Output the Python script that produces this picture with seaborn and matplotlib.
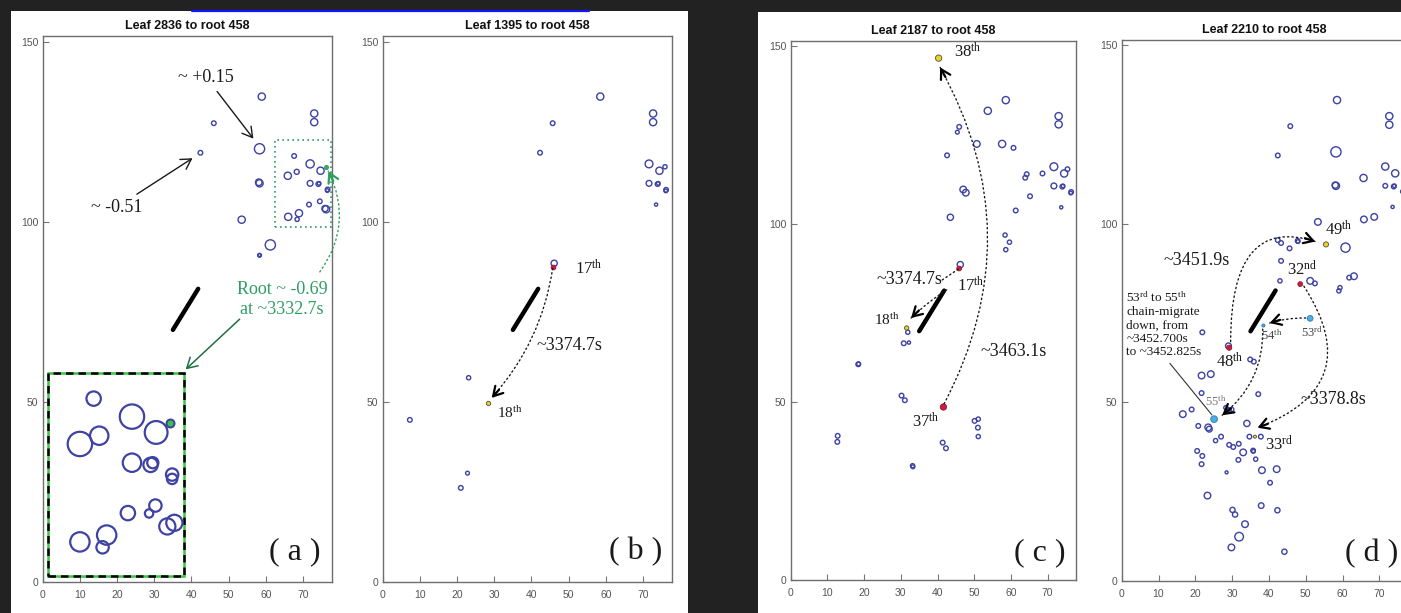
import numpy as np
import pandas as pd
import matplotlib
matplotlib.use("Agg")
import matplotlib.pyplot as plt
import seaborn as sns
from matplotlib.patches import Rectangle
from matplotlib.lines import Line2D

# ---------------- data ----------------
titles = ["Leaf 2836 to root 458", "Leaf 1395 to root 458",
          "Leaf 2187 to root 458", "Leaf 2210 to root 458"]
panel_tags = ["( a )", "( b )", "( c )", "( d )"]
x_ticks = [0, 10, 20, 30, 40, 50, 60, 70]
y_ticks = [0, 50, 100, 150]

# black reference segment (same in all panels)
seg_x = [35.0, 41.8]
seg_y = [69.9, 81.3]

# panel (a) cells
a_x = [58.9, 46.0, 42.4, 58.3, 73.0, 73.0, 58.3, 58.1, 53.5, 61.2, 58.3, 58.3,
       67.6, 65.9, 68.3, 71.9, 74.7, 71.9, 74.1, 74.3, 76.6, 76.5, 71.6, 74.5,
       76.2, 75.9, 66.0, 68.9, 68.4]
a_y = [134.7, 127.3, 119.1, 120.2, 130.0, 127.6, 110.6, 110.9, 100.5, 93.5, 90.6, 90.7,
       118.2, 112.7, 113.8, 116.0, 114.1, 110.6, 110.4, 110.6, 108.9, 108.6, 104.7, 105.6,
       103.4, 103.6, 101.3, 102.3, 100.6]
a_r = [4.3, 3.0, 3.0, 5.8, 4.3, 4.3, 4.3, 4.0, 4.3, 5.8, 2.6, 2.2,
       3.0, 4.3, 3.2, 4.8, 4.3, 3.6, 3.0, 2.5, 3.0, 2.5, 3.0, 3.0,
       4.3, 3.8, 4.3, 4.3, 2.8]
a_root_x = [76.2]
a_root_y = [115.2]
a_root_r = [2.5]
# magnified inset of the dotted box
ai_x = [13.7, 24.0, 10.0, 15.2, 30.5, 24.0, 29.0, 29.6, 34.8, 34.8, 22.9, 30.3,
        28.6, 33.5, 35.4, 17.2, 10.0, 16.1]
ai_y = [50.8, 45.8, 38.2, 40.5, 41.4, 33.0, 32.4, 33.0, 29.7, 28.5, 19.0, 21.1,
        18.9, 15.3, 16.3, 12.9, 11.0, 9.5]
ai_r = [8.3, 13.3, 13.3, 10.3, 12.5, 10.3, 8.3, 6.7, 7.3, 6.3, 8.3, 7.3,
        5.3, 9.2, 9.2, 10.8, 10.8, 7.3]
ai_root_x = [34.2]
ai_root_y = [43.9]
ai_root_r = [5.0]

# panel (b)
b_x = [58.5, 45.7, 42.3, 72.7, 72.7, 71.6, 74.4, 75.9, 71.6, 73.9, 74.1, 76.2, 76.1,
       73.5, 46.1, 23.1, 7.3, 22.8, 21.0]
b_y = [134.7, 127.3, 119.1, 130.0, 127.6, 116.0, 114.1, 115.2, 110.6, 110.4, 110.6, 108.8, 108.5,
       104.7, 88.4, 56.6, 44.9, 30.1, 26.0]
b_r = [4.3, 3.0, 3.0, 4.3, 4.3, 4.6, 4.3, 2.8, 3.6, 3.0, 2.5, 3.0, 2.5,
       2.3, 3.8, 2.8, 3.0, 2.6, 3.0]
b_red_x, b_red_y, b_red_r = [45.7], [87.5], [2.8]
b_yel_x, b_yel_y, b_yel_r = [28.2], [49.7], [2.6]

# panel (c)
c_x = [58.6, 53.7, 45.9, 45.4, 42.6, 50.7, 57.6, 60.7, 73.0, 73.0, 47.0, 47.7, 43.5,
       61.3, 65.2, 63.9, 64.3, 68.6, 71.7, 74.5, 75.4, 71.7, 74.0, 74.2, 76.4, 76.3,
       73.7, 58.4, 59.6, 58.6, 46.2, 31.9, 30.8, 32.2, 18.4, 18.5, 30.2, 31.1, 12.8,
       12.7, 33.2, 33.3, 41.4, 42.3, 50.1, 51.1, 51.0, 51.1]
c_y = [134.8, 131.8, 127.3, 125.8, 119.3, 122.5, 122.5, 121.4, 130.3, 128.0, 109.7, 108.8, 101.9,
       103.8, 107.8, 113.0, 114.0, 114.2, 116.1, 114.2, 115.4, 110.7, 110.5, 110.7, 109.0, 108.7,
       104.7, 96.9, 94.9, 92.8, 88.6, 69.6, 66.5, 66.7, 60.6, 60.7, 51.8, 50.5, 40.5,
       38.8, 32.1, 31.8, 38.6, 37.0, 44.7, 45.2, 42.8, 40.3]
c_r = [4.3, 4.3, 3.0, 2.6, 3.0, 4.0, 4.3, 3.0, 4.3, 4.3, 4.0, 4.0, 3.8,
       3.0, 3.0, 3.0, 3.0, 3.0, 4.6, 4.3, 3.0, 3.6, 3.0, 2.5, 3.0, 2.5,
       2.3, 2.8, 2.8, 2.8, 3.8, 2.8, 3.0, 2.3, 3.0, 2.6, 3.0, 3.0, 3.0,
       3.0, 2.8, 2.6, 3.0, 3.0, 3.0, 2.8, 3.0, 2.8]
c_red_x, c_red_y, c_red_r = [45.9, 41.6], [87.5, 48.6], [2.8, 3.6]
c_yel_x, c_yel_y, c_yel_r = [31.6, 40.3], [70.8, 146.6], [2.6, 3.6]

# panel (d)
d_x = [58.5, 45.8, 42.4, 58.2, 72.7, 72.7, 58.2, 58.0, 65.7, 71.6, 74.3, 71.6, 73.9, 74.1,
       73.6, 76.4, 53.3, 65.8, 68.6, 60.8, 42.4, 43.3, 45.6, 47.8, 47.9, 43.3, 43.0, 51.2,
       52.5, 61.8, 63.1, 59.3, 59.0,
       21.9, 34.9, 35.9, 21.7, 24.2, 37.1, 21.7, 16.6, 19.0, 28.3, 29.2, 29.9, 20.8, 23.5,
       23.8, 34.0, 34.7, 37.8, 25.5, 27.0, 29.2, 30.3, 31.8, 33.0, 35.7, 35.8, 36.4, 31.7,
       20.5, 21.9, 21.7, 28.5, 38.1, 42.1, 40.3, 23.3, 30.1, 30.8, 33.5, 31.9, 29.8, 37.9,
       42.3, 44.2, 29.0]
d_y = [134.6, 127.3, 119.1, 120.1, 130.1, 127.7, 110.6, 110.8, 112.8, 116.0, 114.1, 110.6, 110.4, 110.6,
       104.7, 109.0, 100.5, 101.2, 101.9, 93.3, 95.4, 94.6, 93.1, 95.2, 95.0, 89.6, 84.0, 84.0,
       83.3, 84.9, 85.3, 82.1, 81.2,
       69.6, 62.0, 61.4, 57.5, 57.9, 52.3, 52.6, 46.7, 48.0, 48.5, 47.9, 48.0, 43.4, 43.0,
       42.5, 44.1, 40.4, 40.4, 39.3, 40.4, 38.1, 37.5, 38.4, 36.0, 36.5, 36.3, 34.1, 33.9,
       36.4, 35.0, 32.7, 30.4, 31.0, 31.3, 27.5, 23.9, 19.9, 18.6, 15.9, 12.4, 9.4, 21.1,
       19.8, 8.2, 65.8]
d_r = [4.3, 3.0, 3.0, 5.8, 4.3, 4.3, 4.3, 3.8, 4.3, 4.3, 4.3, 3.0, 3.0, 2.5,
       2.3, 3.0, 4.0, 4.0, 4.0, 5.3, 3.0, 3.0, 3.0, 3.0, 2.5, 3.0, 2.8, 4.0,
       3.0, 3.0, 4.0, 2.8, 2.8,
       3.0, 3.0, 3.0, 4.0, 4.0, 3.0, 3.0, 4.0, 3.0, 2.8, 2.8, 2.8, 3.0, 4.0,
       3.6, 3.8, 3.0, 3.0, 2.8, 3.0, 3.0, 3.0, 3.0, 4.0, 3.0, 2.5, 2.8, 3.0,
       3.0, 3.0, 3.0, 2.2, 4.0, 4.0, 3.0, 4.0, 3.3, 3.3, 4.0, 5.0, 4.0, 3.5,
       3.3, 3.3, 3.6]
d_red_x, d_red_y, d_red_r = [48.5, 29.2], [83.1, 65.3], [2.8, 3.0]
d_yel_x, d_yel_y, d_yel_r = [36.2, 55.5], [40.4, 94.2], [2.0, 3.0]
d_cyan_x, d_cyan_y, d_cyan_r = [51.2, 38.5, 25.1], [73.5, 71.5, 45.3], [3.3, 2.0, 3.8]

# ---------------- style ----------------
sns.set_theme(style="white")
plt.rcParams["font.family"] = ["Liberation Sans", "DejaVu Sans"]
plt.rcParams["mathtext.fontset"] = "custom"
plt.rcParams["mathtext.rm"] = "Liberation Serif"
plt.rcParams["mathtext.it"] = "Liberation Serif:italic"
plt.rcParams["mathtext.bf"] = "Liberation Serif:bold"

SERIF = ["Liberation Serif", "DejaVu Serif"]
RING = "#3d42a3"
RED = "#d01c3c"
YEL = "#f0d419"
CYAN = "#45b1e8"
GRN = "#2e9e62"
LIME = "#3cc245"
INK = "#1a1a1a"
PX = 0.72  # points per pixel at 100 dpi

W, H = 1401, 613
fig = plt.figure(figsize=(W / 100, H / 100), dpi=100, facecolor="#222222")


def fig_rect(x0, y0, x1, y1, color):
    fig.add_artist(Rectangle((x0 / W, 1 - y1 / H), (x1 - x0) / W, (y1 - y0) / H,
                             transform=fig.transFigure, fc=color, ec="none", zorder=0))


fig_rect(11, 11, 688, 613, "white")
fig_rect(758, 12, 1401, 613, "white")
fig.add_artist(Line2D([192 / W, 589 / W], [1 - 11 / H] * 2, transform=fig.transFigure,
                      color="#1414ff", lw=1.6))


def make_ax(left, bottom, width, height, title):
    ax = fig.add_axes([left / W, 1 - bottom / H, width / W, height / H])
    ax.set_xlim(0, 77.7)
    ax.set_ylim(0, 151.5)
    ax.set_xticks(x_ticks)
    ax.set_yticks(y_ticks)
    ax.tick_params(axis="both", direction="in", length=4, width=0.8, color="#777777",
                   labelsize=7.5, labelcolor="#555555", bottom=True, left=True)
    ax.tick_params(axis="x", pad=6)
    ax.tick_params(axis="y", pad=3)
    for sp in ax.spines.values():
        sp.set_visible(True)
        sp.set_color("#6e6e6e")
        sp.set_linewidth(1.0)
    ax.set_facecolor("white")
    ax.set_title(title, fontsize=9, fontweight="bold", color="#111111", pad=5)
    return ax


def rings(ax, xs, ys, rs, lw_px=1.4, edge=RING, face="none", z=3):
    rs = np.asarray(rs, float)
    df = pd.DataFrame({"x": xs, "y": ys})
    sns.scatterplot(data=df, x="x", y="y", ax=ax, legend=False, zorder=z)
    pc = ax.collections[-1]
    pc.set_sizes(((2 * rs - lw_px) * PX) ** 2)
    pc.set_facecolor(face)
    pc.set_edgecolor(edge)
    pc.set_linewidth(lw_px * PX)
    pc.set_clip_on(False)
    ax.set_xlabel("")
    ax.set_ylabel("")


def segment(ax):
    sns.lineplot(x=seg_x, y=seg_y, ax=ax, color="black", lw=3.2, legend=False,
                 sort=False, estimator=None, zorder=4)
    ax.set_xlabel("")
    ax.set_ylabel("")


def head(ax, end, back_vec, color="black", size=11):
    v = np.asarray(back_vec, float)
    v = v / np.hypot(*v)
    ax.annotate("", xy=end, xytext=tuple(v * size), textcoords="offset pixels",
                arrowprops=dict(arrowstyle="->,head_length=0.55,head_width=0.32",
                                color=color, lw=1.6, shrinkA=0, shrinkB=0),
                annotation_clip=False, zorder=6)


def dotted(ax, start, end, rad=0.0, color=INK, arrow=True, angles=None, lw=1.0):
    if angles is None:
        conn = f"arc3,rad={rad}"
    else:
        conn = f"angle3,angleA={angles[0]},angleB={angles[1]}"
    ax.annotate("", xy=end, xytext=start,
                arrowprops=dict(arrowstyle="-", color=color, lw=lw, ls=(0, (1, 2.2)),
                                connectionstyle=conn, shrinkA=0, shrinkB=0),
                annotation_clip=False, zorder=5)
    if not arrow:
        return
    p0 = ax.transData.transform(start)
    p1 = ax.transData.transform(end)
    if angles is None:
        d = p1 - p0
        ctrl = (p0 + p1) / 2 + rad * np.array([d[1], -d[0]])
    else:
        a = np.radians(angles[0]); b = np.radians(angles[1])
        va = np.array([np.cos(a), np.sin(a)]); vb = np.array([np.cos(b), np.sin(b)])
        M = np.column_stack([va, -vb])
        t = np.linalg.solve(M, p1 - p0)
        ctrl = p0 + t[0] * va
    head(ax, end, ctrl - p1, color="black" if color == INK else color)


def ordinal(n, suf):
    return f"{n}$^{{\\mathrm{{{suf}}}}}$"


def label(ax, x, y, s, size=12, ha="left", va="center", color=INK, **kw):
    ax.text(x, y, s, fontsize=size, ha=ha, va=va, color=color, family=SERIF, zorder=7, **kw)


axes_geom = [(42.7, 581.5, 289.0, 545.4), (382.7, 581.5, 289.0, 545.4),
             (790.7, 580.0, 285.2, 539.3), (1121.7, 581.0, 286.0, 541.3)]
axs = [make_ax(*g, t) for g, t in zip(axes_geom, titles)]

# ---------------- panel (a) ----------------
ax = axs[0]
segment(ax)
rings(ax, a_x, a_y, a_r)
rings(ax, a_root_x, a_root_y, a_root_r, face=LIME, edge=GRN, z=4)
ax.add_patch(Rectangle((62.4, 98.4), 15.1, 24.2, fill=False, ec=GRN, lw=1.2,
                       ls=(0, (1, 2)), zorder=2, clip_on=False))
ax.add_patch(Rectangle((1.3, 1.4), 36.6, 56.5, fill=False, ec=LIME, lw=1.8, zorder=2))
ax.add_patch(Rectangle((1.3, 1.4), 36.6, 56.5, fill=False, ec="black", lw=1.8,
                       ls=(0, (3, 2)), zorder=2))
rings(ax, ai_x, ai_y, ai_r, lw_px=2.2)
rings(ax, ai_root_x, ai_root_y, ai_root_r, lw_px=2.0, face=LIME, z=4)
ax.annotate("~ +0.15", xy=(57.1, 122.4), xytext=(44.0, 140.0), fontsize=13, family=SERIF,
            ha="center", va="center", color=INK,
            arrowprops=dict(arrowstyle="->,head_length=0.55,head_width=0.32", color=INK, lw=1.0))
ax.annotate("~ -0.51", xy=(40.9, 118.0), xytext=(19.8, 103.9), fontsize=13, family=SERIF,
            ha="center", va="center", color=INK,
            arrowprops=dict(arrowstyle="->,head_length=0.55,head_width=0.32", color=INK, lw=1.0))
label(ax, 64.3, 78.3, "Root ~ -0.69\nat ~3332.7s", size=13, ha="center", color=GRN)
ax.annotate("", xy=(37.9, 58.4), xytext=(53.5, 73.4),
            arrowprops=dict(arrowstyle="->,head_length=0.6,head_width=0.35", color="#1f6e44", lw=1.1))
dotted(ax, (74.5, 86.0), (76.8, 114.0), rad=0.3, color=GRN)
label(ax, 67.9, 8.2, panel_tags[0], size=23, ha="center")

# ---------------- panel (b) ----------------
ax = axs[1]
segment(ax)
rings(ax, b_x, b_y, b_r)
rings(ax, b_red_x, b_red_y, b_red_r, face=RED, edge="#8a1a40", lw_px=0.8, z=4)
rings(ax, b_yel_x, b_yel_y, b_yel_r, face=YEL, edge="#555555", lw_px=0.9, z=4)
dotted(ax, (45.7, 87.0), (29.3, 51.0), rad=-0.15)
label(ax, 51.7, 86.8, ordinal(17, "th"), size=12)
label(ax, 30.6, 46.8, ordinal(18, "th"), size=11)
label(ax, 41.4, 65.5, "~3374.7s", size=13)
label(ax, 67.9, 8.2, panel_tags[1], size=23, ha="center")

# ---------------- panel (c) ----------------
ax = axs[2]
segment(ax)
rings(ax, c_x, c_y, c_r)
rings(ax, c_red_x, c_red_y, c_red_r, face=RED, edge="#8a1a40", lw_px=0.8, z=4)
rings(ax, c_yel_x, c_yel_y, c_yel_r, face=YEL, edge="#555555", lw_px=0.9, z=4)
dotted(ax, (42.5, 81.5), (32.8, 73.6), rad=0.05)
dotted(ax, (41.3, 84.3), (45.9, 87.5), rad=0.0, arrow=False)
dotted(ax, (41.8, 49.5), (40.7, 144.0), rad=0.27)
label(ax, 44.5, 148.3, ordinal(38, "th"), size=12)
label(ax, 45.2, 82.6, ordinal(17, "th"), size=12)
label(ax, 29.8, 73.0, ordinal(18, "th"), size=11, ha="right")
label(ax, 36.7, 44.4, ordinal(37, "th"), size=12, ha="center")
label(ax, 41.2, 84.3, "~3374.7s", size=13, ha="right")
label(ax, 51.6, 64.1, "~3463.1s", size=13)
label(ax, 67.9, 7.8, panel_tags[2], size=23, ha="center")

# ---------------- panel (d) ----------------
ax = axs[3]
segment(ax)
rings(ax, d_x, d_y, d_r)
rings(ax, d_red_x, d_red_y, d_red_r, face=RED, edge="#8a1a40", lw_px=0.8, z=4)
rings(ax, d_yel_x, d_yel_y, d_yel_r, face=YEL, edge="#555555", lw_px=0.9, z=4)
rings(ax, d_cyan_x, d_cyan_y, d_cyan_r, face=CYAN, edge="#3a78b8", lw_px=0.9, z=4)
dotted(ax, (29.6, 67.0), (52.6, 95.0), angles=(90, -18))
dotted(ax, (49.5, 82.5), (36.9, 42.9), rad=-0.62)
dotted(ax, (50.0, 73.6), (40.2, 72.2), rad=0.08)
dotted(ax, (38.3, 70.5), (27.3, 46.4), rad=-0.25)
ax.annotate("", xy=(24.5, 46.5), xytext=(13.1, 60.9),
            arrowprops=dict(arrowstyle="-", color="#333333", lw=0.8, shrinkA=0, shrinkB=0))
label(ax, 55.3, 98.3, ordinal(49, "th"), size=12)
label(ax, 45.0, 87.2, ordinal(32, "nd"), size=12)
label(ax, 29.4, 61.3, ordinal(48, "th"), size=12, ha="center")
label(ax, 39.0, 38.0, ordinal(33, "rd"), size=12)
label(ax, 51.6, 69.6, ordinal(53, "rd"), size=9, ha="center", color="#444444")
label(ax, 40.8, 68.7, ordinal(54, "th"), size=9, ha="center", color="#444444")
label(ax, 25.6, 50.3, ordinal(55, "th"), size=9, ha="center", color="#777777")
label(ax, 29.3, 89.8, "~3451.9s", size=13, ha="right")
label(ax, 48.5, 50.7, "~3378.8s", size=13)
label(ax, 1.3, 81.3, ordinal(53, "rd") + " to " + ordinal(55, "th")
      + "\nchain-migrate\ndown, from\n~3452.700s\nto ~3452.825s",
      size=9.5, va="top", linespacing=1.15)
label(ax, 67.9, 7.8, panel_tags[3], size=23, ha="center")

fig.savefig("out.png", dpi=100, facecolor=fig.get_facecolor())
